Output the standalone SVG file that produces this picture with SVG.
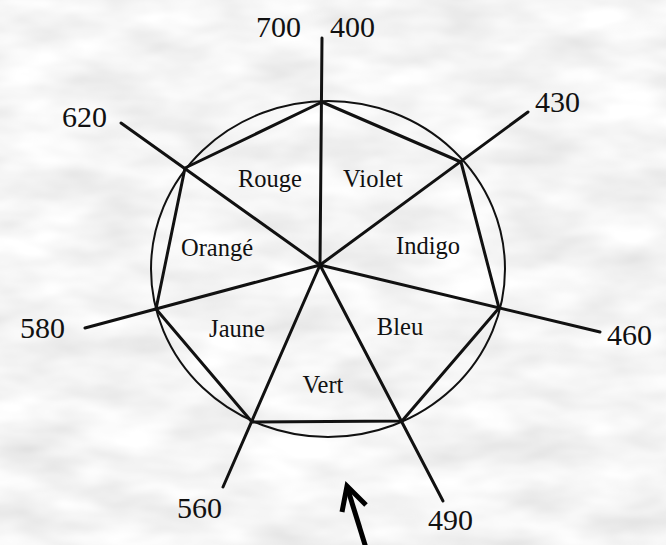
<svg xmlns="http://www.w3.org/2000/svg" width="666" height="545" viewBox="0 0 666 545">
<defs>
<filter id="clouds" x="0" y="0" width="100%" height="100%" filterUnits="userSpaceOnUse">
<feTurbulence type="fractalNoise" baseFrequency="0.012 0.03" numOctaves="3" seed="7"/>
<feColorMatrix type="matrix" values="0.36 0 0 0 0.73  0.36 0 0 0 0.73  0.36 0 0 0 0.73  0 0 0 0 1"/>
</filter>
<style>
.ln{stroke:#111;stroke-width:3;fill:none;stroke-linecap:round;stroke-linejoin:round}
.el{stroke:#111;stroke-width:2;fill:none}
.num{font-family:"Liberation Serif","Times New Roman",serif;font-size:30px;fill:#111}
.lbl{font-family:"Liberation Serif","Times New Roman",serif;font-size:24.5px;fill:#111;text-anchor:middle}
</style>
</defs>
<rect x="0" y="0" width="666" height="545" fill="#eaeaea"/>
<rect x="0" y="0" width="666" height="545" filter="url(#clouds)"/>
<g id="connectors">
<ellipse class="el" cx="328" cy="269" rx="177" ry="168"/>
<polygon class="ln" points="322,102 461,162 499,308 402,421 252,422 156,309 185,168"/>
<line class="ln" x1="320" y1="265" x2="322" y2="38"/>
<line class="ln" x1="320" y1="265" x2="528" y2="112"/>
<line class="ln" x1="320" y1="265" x2="600" y2="332"/>
<line class="ln" x1="320" y1="265" x2="443" y2="501"/>
<line class="ln" x1="320" y1="265" x2="223" y2="487"/>
<line class="ln" x1="320" y1="265" x2="85" y2="328"/>
<line class="ln" x1="320" y1="265" x2="121" y2="123"/>
</g>
<g id="labels-numbers">
<text class="num" x="256" y="37">700</text>
<text class="num" x="330" y="37">400</text>
<text class="num" x="535" y="112">430</text>
<text class="num" x="607" y="345">460</text>
<text class="num" x="428" y="530">490</text>
<text class="num" x="177" y="518">560</text>
<text class="num" x="20" y="338">580</text>
<text class="num" x="62" y="127">620</text>
</g>
<g id="node-rouge"><text class="lbl" x="270" y="187">Rouge</text></g>
<g id="node-violet"><text class="lbl" x="373" y="187">Violet</text></g>
<g id="node-indigo"><text class="lbl" x="428" y="254">Indigo</text></g>
<g id="node-bleu"><text class="lbl" x="400" y="335">Bleu</text></g>
<g id="node-vert"><text class="lbl" x="323" y="393">Vert</text></g>
<g id="node-jaune"><text class="lbl" x="237" y="337">Jaune</text></g>
<g id="node-orange"><text class="lbl" x="217" y="256">Orangé</text></g>
<g id="arrow">
<line x1="366" y1="548" x2="348" y2="490" stroke="#000" stroke-width="5"/>
<polyline points="342,512 347,486 366,505" fill="none" stroke="#000" stroke-width="5" stroke-linejoin="miter"/>
</g>
</svg>
